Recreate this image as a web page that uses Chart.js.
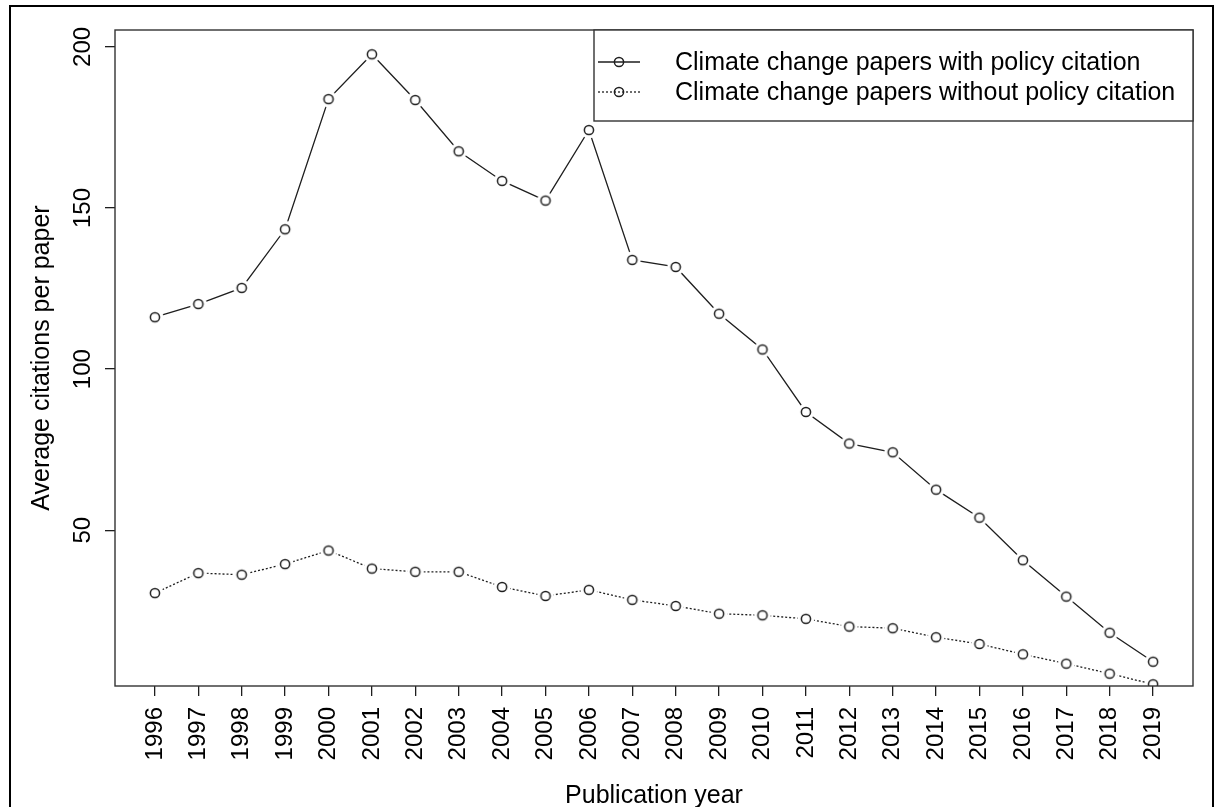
<!DOCTYPE html>
<html>
<head>
<meta charset="utf-8">
<script src="https://cdn.jsdelivr.net/npm/chart.js@4.4.1/dist/chart.umd.min.js"></script>
<style>
  html, body { margin: 0; padding: 0; background: #fff; }
  #wrap { position: relative; width: 1218px; height: 807px; }
</style>
</head>
<body>
<div id="wrap"><canvas id="citeChart" width="1218" height="807"></canvas></div>
<script>
// data
const years = [1996, 1997, 1998, 1999, 2000, 2001, 2002, 2003, 2004, 2005, 2006, 2007,
  2008, 2009, 2010, 2011, 2012, 2013, 2014, 2015, 2016, 2017, 2018, 2019];
const withPolicy = [116.1, 120.2, 125.2, 143.4, 183.8, 197.7, 183.5, 167.6, 158.4, 152.3, 174.2, 133.9,
  131.7, 117.2, 106.1, 86.7, 76.9, 74.2, 62.6, 53.9, 40.7, 29.4, 18.2, 9.2];
const withoutPolicy = [30.5, 36.7, 36.2, 39.5, 43.7, 38.1, 37.1, 37.1, 32.4, 29.6, 31.5, 28.4,
  26.5, 24.1, 23.6, 22.5, 20.1, 19.6, 16.8, 14.7, 11.5, 8.6, 5.5, 2.2];
const yTicks = [50, 100, 150, 200];
const seriesNames = ["Climate change papers with policy citation",
  "Climate change papers without policy citation"];

const INK = "#1e1e1e";
const FONT = "'Liberation Sans', Arial, sans-serif";

// R style open circle with a white halo so the line stops short of the point
function makeMarker() {
  const c = document.createElement("canvas");
  c.width = 22; c.height = 22;
  const g = c.getContext("2d");
  g.fillStyle = "#fff";
  g.beginPath(); g.arc(11, 11, 8.5, 0, Math.PI * 2); g.fill();
  g.strokeStyle = INK; g.lineWidth = 1.5;
  g.beginPath(); g.arc(11, 11, 4.6, 0, Math.PI * 2); g.stroke();
  return c;
}
const marker = makeMarker();

function toXY(vals) {
  return years.map((yr, i) => ({ x: yr, y: vals[i] }));
}

// range like R: 4% past the first series' extent
const xPad = (years[years.length - 1] - years[0]) * 0.04;
const yMin = Math.min(...withPolicy), yMax = Math.max(...withPolicy);
const yPad = (yMax - yMin) * 0.04;

const decor = {
  id: "decor",
  afterDatasetsDraw(chart) {
    const ctx = chart.ctx;
    const a = chart.chartArea;
    const ys = chart.scales.y;
    ctx.save();
    // outer frame
    ctx.strokeStyle = "#000";
    ctx.lineWidth = 2;
    ctx.beginPath();
    ctx.moveTo(10, 812); ctx.lineTo(10, 6); ctx.lineTo(1213, 6); ctx.lineTo(1213, 812);
    ctx.stroke();
    // plot box
    ctx.strokeStyle = "#333";
    ctx.lineWidth = 1.4;
    ctx.strokeRect(a.left, a.top, a.right - a.left, a.bottom - a.top);

    // y tick labels, turned like R
    ctx.fillStyle = "#000";
    ctx.font = "24px " + FONT;
    ctx.textAlign = "center";
    ctx.textBaseline = "alphabetic";
    yTicks.forEach(v => {
      ctx.save();
      ctx.translate(90, ys.getPixelForValue(v));
      ctx.rotate(-Math.PI / 2);
      ctx.fillText(String(v), 0, 0);
      ctx.restore();
    });

    // axis titles
    ctx.font = "25px " + FONT;
    ctx.fillText("Publication year", (a.left + a.right) / 2, 803);
    ctx.save();
    ctx.translate(49, (a.top + a.bottom) / 2);
    ctx.rotate(-Math.PI / 2);
    ctx.fillText("Average citations per paper", 0, 0);
    ctx.restore();

    // legend box
    const lx = 594, ly = a.top, lw = a.right - lx, lh = 91;
    ctx.fillStyle = "#fff";
    ctx.fillRect(lx, ly, lw, lh);
    ctx.strokeStyle = "#333";
    ctx.strokeRect(lx, ly, lw, lh);
    const rows = [62, 92];
    const dashes = [[], [2, 2]];
    rows.forEach((ry, i) => {
      ctx.strokeStyle = INK;
      ctx.lineWidth = 1.3;
      ctx.setLineDash(dashes[i]);
      ctx.beginPath(); ctx.moveTo(598, ry); ctx.lineTo(640, ry); ctx.stroke();
      ctx.setLineDash([]);
      ctx.lineWidth = 1.5;
      ctx.beginPath(); ctx.arc(619, ry, 4.6, 0, Math.PI * 2); ctx.stroke();
      ctx.fillStyle = "#000";
      ctx.font = "25px " + FONT;
      ctx.textAlign = "left";
      ctx.textBaseline = "middle";
      ctx.fillText(seriesNames[i], 675, ry + 1);
    });
    ctx.restore();
  }
};

new Chart(document.getElementById("citeChart").getContext("2d"), {
  type: "line",
  data: {
    datasets: [
      {
        label: seriesNames[0],
        data: toXY(withPolicy),
        borderColor: INK,
        borderWidth: 1.3,
        pointStyle: marker,
        pointRadius: 11,
        tension: 0,
        fill: false,
        clip: 0
      },
      {
        label: seriesNames[1],
        data: toXY(withoutPolicy),
        borderColor: INK,
        borderWidth: 1.3,
        borderDash: [2, 2],
        pointStyle: marker,
        pointRadius: 11,
        tension: 0,
        fill: false,
        clip: 0
      }
    ]
  },
  options: {
    responsive: false,
    animation: false,
    events: [],
    layout: { padding: { top: 30, right: 25, left: 0, bottom: 0 } },
    plugins: {
      legend: { display: false },
      tooltip: { enabled: false }
    },
    scales: {
      x: {
        type: "linear",
        min: years[0] - xPad,
        max: years[years.length - 1] + xPad,
        afterBuildTicks: (axis) => { axis.ticks = years.map(v => ({ value: v })); },
        afterFit: (axis) => { axis.height = 121; },
        border: { display: false },
        grid: { drawOnChartArea: false, drawTicks: true, tickLength: 10, color: INK, lineWidth: 1.3 },
        ticks: {
          minRotation: 90,
          maxRotation: 90,
          autoSkip: false,
          padding: 11,
          color: "#000",
          font: { family: FONT, size: 24 },
          callback: (v) => String(v)
        }
      },
      y: {
        type: "linear",
        min: yMin - yPad,
        max: yMax + yPad,
        afterBuildTicks: (axis) => { axis.ticks = yTicks.map(v => ({ value: v })); },
        afterFit: (axis) => { axis.width = 115; },
        border: { display: false },
        grid: { drawOnChartArea: false, drawTicks: true, tickLength: 10, color: INK, lineWidth: 1.3 },
        ticks: { display: false }
      }
    }
  },
  plugins: [decor]
});
</script>
</body>
</html>
